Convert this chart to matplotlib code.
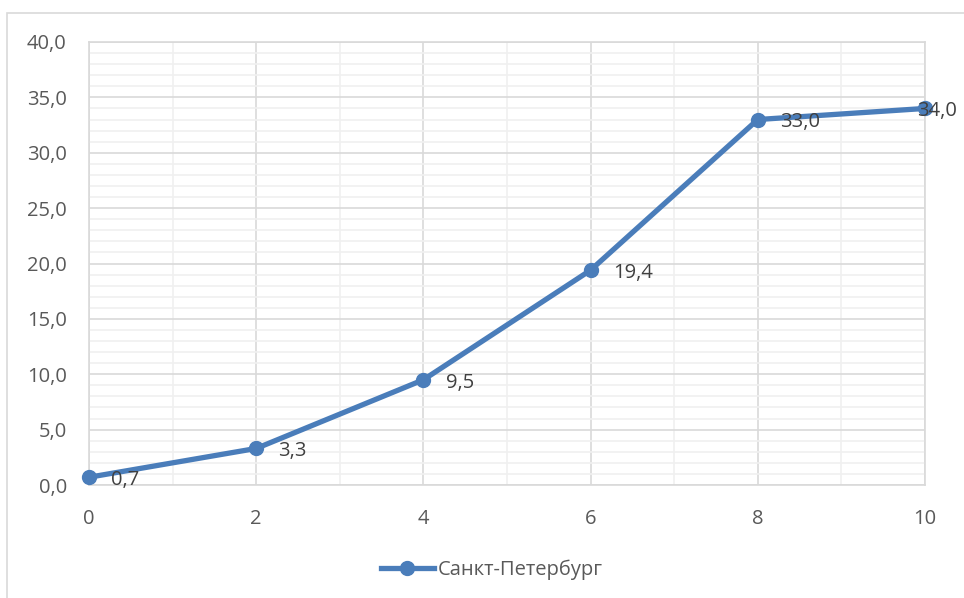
import matplotlib.pyplot as plt
from matplotlib.ticker import MultipleLocator, FuncFormatter
from matplotlib.patches import Rectangle

# data
years = [0, 2, 4, 6, 8, 10]
values = [0.7, 3.3, 9.5, 19.4, 33.0, 34.0]
series_name = 'Санкт-Петербург'

plt.rcParams['font.family'] = ['Open Sans', 'DejaVu Sans']

text_color = '#595959'
label_color = '#404040'
line_color = '#4a7dba'
fs = 14.5

fig = plt.figure(figsize=(9.64, 5.98), dpi=100)
ax = fig.add_axes([89 / 964, 1 - 485 / 598, (925 - 89) / 964, (485 - 42) / 598])

# outer chart border (cropped at right/bottom)
fig.patches.append(Rectangle((7 / 964, -0.1), 1.2, 1 - 13 / 598 + 0.1,
                             transform=fig.transFigure, fill=False,
                             edgecolor='#d9d9d9', linewidth=1.2))

ax.plot(years, values, color=line_color, linewidth=3.8, marker='o',
        markersize=10, clip_on=False, zorder=5, label=series_name)

for i, (x, y) in enumerate(zip(years, values)):
    # last label is pushed back inside the chart, over the marker
    dx = 16 if i < len(years) - 1 else -6
    ax.annotate(f'{y:.1f}'.replace('.', ','), (x, y), xytext=(dx, -2),
                textcoords='offset points', ha='left', va='center',
                fontsize=fs, color=label_color, zorder=6)

ax.set_xlim(0, 10)
ax.set_ylim(0, 40)
ax.xaxis.set_major_locator(MultipleLocator(2))
ax.xaxis.set_minor_locator(MultipleLocator(1))
ax.yaxis.set_major_locator(MultipleLocator(5))
ax.yaxis.set_minor_locator(MultipleLocator(1))
ax.yaxis.set_major_formatter(FuncFormatter(lambda v, p: f'{v:.1f}'.replace('.', ',')))

ax.grid(which='major', color='#d9d9d9', linewidth=1.2)
ax.grid(which='minor', color='#f0f0f0', linewidth=1.2)
ax.set_axisbelow(True)
for s in ax.spines.values():
    s.set_color('#d9d9d9')
    s.set_linewidth(1.2)

ax.tick_params(which='both', length=0, colors=text_color, labelsize=fs)
ax.tick_params(axis='x', pad=17)
ax.tick_params(axis='y', pad=16)

leg = fig.legend(loc='center', bbox_to_anchor=(492 / 964, 1 - 570 / 598),
                 frameon=False, fontsize=fs, handlelength=2.6,
                 labelcolor=text_color, handletextpad=0.2)

fig.savefig('out.png', dpi=100)
